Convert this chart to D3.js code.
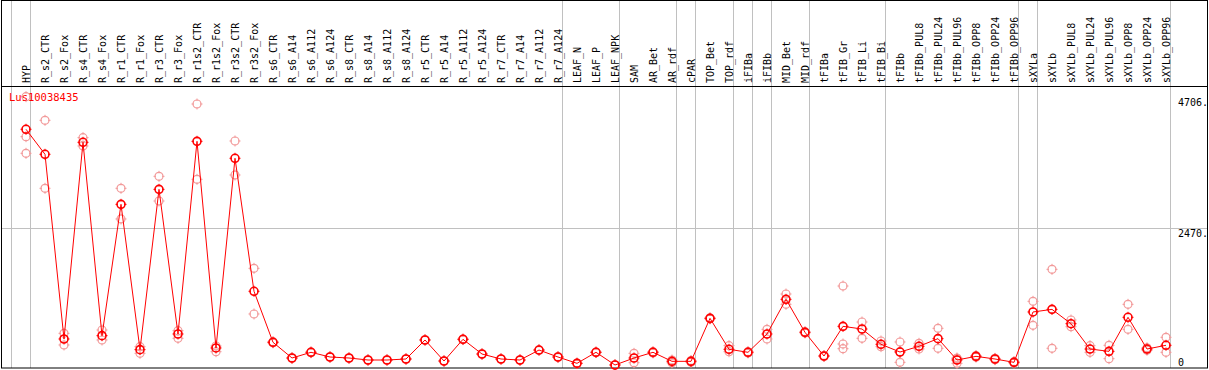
<!DOCTYPE html>
<html>
<head>
<meta charset="utf-8">
<script src="https://cdn.jsdelivr.net/npm/d3@7"></script>
<style>
html,body{margin:0;padding:0;background:#fff;}
svg{display:block;}
text{font-family:"DejaVu Sans Mono","Liberation Mono",monospace;}
</style>
</head>
<body>
<svg id="chart" width="1209" height="370"></svg>
<script>
const categories = ["HYP","R_s2_CTR","R_s2_Fox","R_s4_CTR","R_s4_Fox","R_r1_CTR","R_r1_Fox","R_r3_CTR","R_r3_Fox","R_r1s2_CTR","R_r1s2_Fox","R_r3s2_CTR","R_r3s2_Fox","R_s6_CTR","R_s6_A14","R_s6_A112","R_s6_A124","R_s8_CTR","R_s8_A14","R_s8_A112","R_s8_A124","R_r5_CTR","R_r5_A14","R_r5_A112","R_r5_A124","R_r7_CTR","R_r7_A14","R_r7_A112","R_r7_A124","LEAF_N","LEAF_P","LEAF_NPK","SAM","AR_Bet","AR_rdf","cPAR","TOP_Bet","TOP_rdf","iFIBa","iFIBb","MID_Bet","MID_rdf","tFIBa","tFIB_Gr","tFIB_Li","tFIB_Bi","tFIBb","tFIBb_PUL8","tFIBb_PUL24","tFIBb_PUL96","tFIBb_OPP8","tFIBb_OPP24","tFIBb_OPP96","sXYLa","sXYLb","sXYLb_PUL8","sXYLb_PUL24","sXYLb_PUL96","sXYLb_OPP8","sXYLb_OPP24","sXYLb_OPP96"];

const means = [4250,3799,469,4015,529,2897,277,3167,559,4033,307,3727,1329,409,126,229,144,126,90,90,108,451,72,463,198,108,90,270,144,30,229,0,126,229,66,66,841,283,229,559,1184,589,162,697,649,373,234,337,475,90,156,108,48,956,1003,745,288,246,860,288,355];

const replicates = [[4838,4117,3817],[4412,3186],[571,361],[4099,3949],[631,451],[3186,2633],[331,211],[3402,2957],[619,481],[4706,3348],[343,240],[4039,3426],[1743,920],[420,400],[130,120],[235,222],[150,140],[130,120],[95,85],[95,85],[112,104],[456,446],[76,68],[468,458],[203,193],[112,104],[95,85],[275,265],[150,138],[34,26],[234,224],[4,0],[210,42],[240,218],[90,40],[80,50],[850,832],[349,240],[240,218],[643,469],[1280,1094],[600,578],[170,154],[1424,379,294],[775,481],[433,331],[415,240,48],[391,290],[661,301],[126,115,30],[170,142],[120,96],[60,36],[1148,715],[1725,301],[811,691],[349,229],[355,114],[1094,643],[310,266],[499,229]];

const groupEnds = [-1,0,28,31,34,35,37,38,39,41,45,52,53,60];
const yTicks = [0,2470,4706];
const geneName = "Lus10038435";

const W = 1209, H = 370;
const svg = d3.select("#chart");
const x = d3.scaleLinear().domain([0, categories.length - 1]).range([26, 1166]);
const y = d3.scaleLinear().domain([0, 4706]).range([365, 104]);

const red = "#ff0000", pink = "#f29a9a";

// horizontal gridline at middle tick
svg.append("line").attr("x1",1).attr("x2",1207)
  .attr("y1",Math.round(y(2470))+0.5).attr("y2",Math.round(y(2470))+0.5)
  .attr("stroke","#c0c0c0").attr("stroke-width",1);

// group separators
svg.selectAll("line.sep").data(groupEnds).join("line").attr("class","sep")
  .attr("x1",d=>x(d)+4.5).attr("x2",d=>x(d)+4.5)
  .attr("y1",0).attr("y2",368)
  .attr("stroke","#c0c0c0").attr("stroke-width",1);

// frame
svg.append("rect").attr("x",1.5).attr("y",0.5).attr("width",1206).attr("height",367.5)
  .attr("fill","none").attr("stroke","#000").attr("stroke-width",1);
svg.append("line").attr("x1",1).attr("x2",1208).attr("y1",86.5).attr("y2",86.5)
  .attr("stroke","#000").attr("stroke-width",1);

// category labels
svg.selectAll("text.cat").data(categories).join("text").attr("class","cat")
  .attr("transform",(d,i)=>`translate(${x(i)+4},83) rotate(-90)`)
  .attr("font-size",10).attr("fill","#000").text(d=>d);

// y tick labels
const tickBase = {0:366, 2470:237, 4706:106};
svg.selectAll("text.yt").data(yTicks).join("text").attr("class","yt")
  .attr("x",1178).attr("y",d=>tickBase[d])
  .attr("font-size",10).attr("fill","#000")
  .text(d=> d===0 ? "0" : d+".");

// marker function
function marker(g, cx, cy, color, sw){
  const r = 4;
  g.append("circle").attr("cx",cx).attr("cy",cy).attr("r",r)
    .attr("fill","none").attr("stroke",color).attr("stroke-width",sw);
  const t = [[0,-1],[0,1],[-1,0],[1,0]];
  t.forEach(([dx,dy])=>{
    g.append("line")
      .attr("x1",cx+dx*(r-1)).attr("y1",cy+dy*(r-1))
      .attr("x2",cx+dx*(r+1.5)).attr("y2",cy+dy*(r+1.5))
      .attr("stroke",color).attr("stroke-width",1);
  });
}

// replicate points
const gRep = svg.append("g");
replicates.forEach((arr,i)=>{
  arr.forEach(v=> marker(gRep, x(i), y(v), pink, 1.2));
});

// mean line
const line = d3.line().x((d,i)=>x(i)).y(d=>y(d));
svg.append("path").datum(means).attr("d",line)
  .attr("fill","none").attr("stroke",red).attr("stroke-width",1);

// mean points
const gMean = svg.append("g");
means.forEach((v,i)=> marker(gMean, x(i), y(v), red, 1.6));

// gene label
svg.append("text").attr("x",9).attr("y",101).attr("font-size",10.5)
  .attr("fill",red).text(geneName);
</script>
</body>
</html>
